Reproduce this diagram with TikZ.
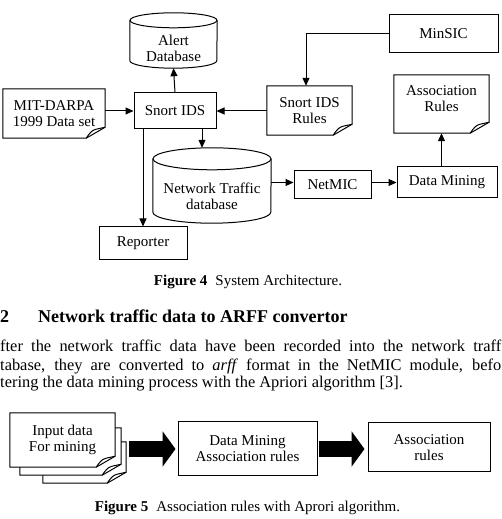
\documentclass[tikz,border=0pt]{standalone}
\usepackage{fontspec}
\setmainfont{Liberation Serif}
\usetikzlibrary{arrows.meta}
\pgfdeclarelayer{background}
\pgfsetlayers{background,main}

% document outline with turned corner, #1 = extra room below the text
\newcommand{\docframe}[2][0pt]{%
  \begin{pgfonlayer}{background}
  \draw[frame, fill=white] (#2.north west) -- (#2.north east) -- ([yshift=11pt-#1]#2.south east)
    -- ([xshift=-19pt,yshift=-#1]#2.south east) -- ([yshift=-#1]#2.south west) -- cycle;
  \draw[frame] ([xshift=-19pt,yshift=-#1]#2.south east) .. controls ([xshift=-15pt,yshift=6pt-#1]#2.south east)
    and ([xshift=-13pt,yshift=8pt-#1]#2.south east) .. ([xshift=-9pt,yshift=9pt-#1]#2.south east)
    -- ([yshift=11pt-#1]#2.south east);
  \end{pgfonlayer}}

% database drum round a node, #2 = x radius, #3 = y radius
\newcommand{\dbframe}[3]{%
  \draw[frame] ([yshift=#3]#1.north west) -- ([yshift=#3]#1.south west)
    arc[start angle=180, end angle=360, x radius=#2, y radius=#3] -- ([yshift=#3]#1.north east);
  \draw[frame] ([yshift=#3]#1.north) ellipse[x radius=#2, y radius=#3];}

\begin{document}
\begin{tikzpicture}[
		x=1pt, y=1pt,
		every node/.style={font=\fontsize{15}{16}\selectfont, align=center, inner sep=0pt},
		box/.style={draw, line width=1pt},
		frame/.style={line width=1pt},
		conn/.style={line width=1pt, -{Triangle[length=8pt,width=7pt]}},
		bigarrow/.style={line width=16pt, -{Triangle[length=13pt,width=35pt]}},
		txt/.style={anchor=base west, font=\fontsize{16.4}{18}\selectfont},
		captxt/.style={anchor=base, font=\fontsize{15}{16}\selectfont}
	]
  \useasboundingbox (0,0) rectangle (501,519);

  % Figure 4
  \node (alert) [minimum width=87pt, minimum height=40pt] at (173.5,471) {Alert\\Database};
  \dbframe{alert}{43.5pt}{7.5pt}
  \node (snort) [box, minimum width=82pt, minimum height=36pt] at (175,408) {Snort IDS};
  \node (mit) [minimum width=102pt, minimum height=49pt] at (54,405.5) {MIT-DARPA\\1999 Data set};
  \docframe{mit}
  \node (minsic) [box, minimum width=109pt, minimum height=38pt] at (443.5,485) {MinSIC};
  \node (rules) [minimum width=85pt, minimum height=49pt] at (309.5,408.5) {Snort IDS\\Rules};
  \docframe{rules}
  \node (assoc) [minimum width=95pt, minimum height=48pt] at (441.5,420) {Association\\Rules};
  \docframe[10pt]{assoc}
  \node (net) [minimum width=118pt, minimum height=53pt] at (212,322.5) {Network Traffic\\database};
  \dbframe{net}{59pt}{11pt}
  \node (reporter) [box, minimum width=88pt, minimum height=33pt] at (143,275.5) {Reporter};
  \node (netmic) [box, minimum width=77pt, minimum height=28pt] at (332.5,334) {NetMIC};
  \node (mining) [box, minimum width=100pt, minimum height=31pt] at (447,336.5) {Data Mining};

  \draw[conn] (snort.north) -- (alert.south);
  \draw[conn] (mit.east |- snort.west) -- (snort.west);
  \draw[conn] (rules.west |- snort.east) -- (snort.east);
  \draw[conn] (minsic.west) -| ([xshift=-3.5pt]rules.north);
  \draw[conn] (assoc.south |- mining.north) -- ([yshift=-10pt]assoc.south);
  \draw[conn] (snort.south -| reporter.north) -- (reporter.north);
  \draw[conn] ([xshift=27pt]snort.south) -- ([xshift=-10pt,yshift=22pt]net.north);
  \draw[conn] (net.east |- mining.west) -- (netmic.west |- mining.west);
  \draw[conn] (netmic.east |- mining.west) -- (mining.west);

  \node (cap4) [captxt] at (248,233.5) {\textbf{Figure 4}\hspace{8pt}System Architecture.};

  % section text
  \node (secnum) [anchor=base west, font=\fontsize{18}{20}\selectfont\bfseries] at (0,196) {2};
  \node (sectitle) [anchor=base west, font=\fontsize{18}{20}\selectfont\bfseries] at (38,196)
    {Network traffic data to ARFF convertor};
  \node (line1) [txt] at (0,167)
    {\makebox[501pt][s]{fter the network traffic data have been recorded into the network traff}};
  \node (line2) [txt] at (0,148)
    {\makebox[501pt][s]{tabase, they are converted to \textit{arff} format in the NetMIC module, befo}};
  \node (line3) [txt] at (0,131)
    {tering the data mining process with the Apriori algorithm [3].};

  % Figure 5
  \node (input3) [minimum width=83pt, minimum height=41pt] at (84.5,56.5) {};
  \docframe{input3}
  \node (input2) [minimum width=101pt, minimum height=47pt] at (70.5,67.5) {};
  \docframe{input2}
  \node (input) [minimum width=105pt, minimum height=54pt] at (62.5,79) {Input data\\For mining};
  \docframe{input}
  \node (dmar) [box, minimum width=139pt, minimum height=54pt] at (247.5,70) {Data Mining\\Association rules};
  \node (arules) [box, minimum width=122pt, minimum height=49pt] at (429,71.5) {Association\\rules};

  \draw[bigarrow, shorten <=14pt, shorten >=2pt] (input.east |- dmar.west) -- (dmar.west);
  \draw[bigarrow, shorten <=1pt, shorten >=3pt] (dmar.east) -- (arules.west |- dmar.east);

  \node (cap5) [captxt] at (247.5,7) {\textbf{Figure 5}\hspace{8pt}Association rules with Aprori algorithm.};
\end{tikzpicture}
\end{document}
